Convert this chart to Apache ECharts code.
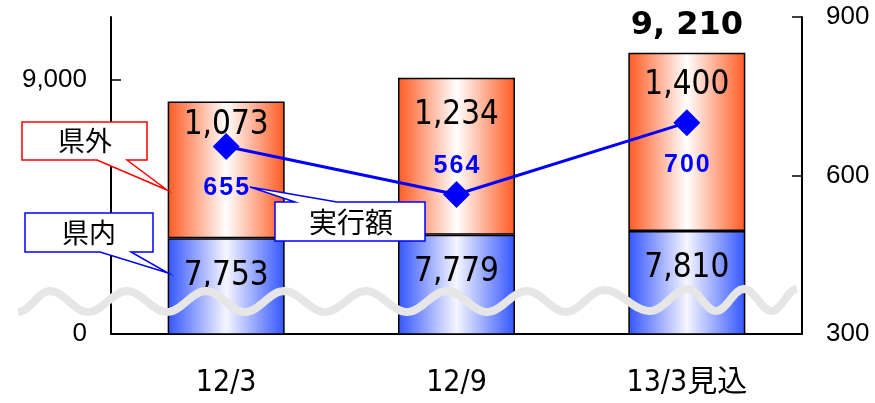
<!DOCTYPE html>
<html>
<head>
<meta charset="utf-8">
<script src="https://cdn.jsdelivr.net/npm/echarts@6/dist/echarts.min.js"></script>
<style>
  html, body { margin: 0; padding: 0; background: #ffffff; }
  #chart { width: 875px; height: 403px; }
</style>
</head>
<body>
<div id="chart"></div>
<script>
// ---- data ----
const categories = ['12/3', '12/9', '13/3見込'];
const inPref = [7753, 7779, 7810];      // 県内
const outPref = [1073, 1234, 1400];     // 県外
const executed = [655, 564, 700];       // 実行額 (right axis)
const totalShown = [false, false, true];
// left axis is broken: its lowest visible value is labelled 0
const leftAxisMin = 7000;
const leftAxisMax = 9490;
const leftTickValues = [7000, 9000];
const leftTickText = ['0', '9,000'];
const rightTickValues = [300, 600, 900];

// ---- helpers ----
const fmt = v => v.toLocaleString('en-US');
const spaced = s => s.split('').join('\u200A');
const totals = inPref.map((v, i) => v + outPref[i]);
const NARROW = "'Liberation Sans Narrow', 'DejaVu Sans Condensed', 'Noto Sans CJK JP', sans-serif";
const JP = "'Noto Sans CJK JP', sans-serif";
const SANS = "'Liberation Sans', Arial, sans-serif";

function hGradient(edge, mid) {
  return new echarts.graphic.LinearGradient(0, 0, 1, 0, [
    { offset: 0, color: edge },
    { offset: 0.5, color: mid },
    { offset: 1, color: edge }
  ]);
}

// label nudges for the 県外 values (vertical, px)
const outLabelNudge = [7, 21, 16];
const execLabelPos = ['bottom', 'top', 'bottom'];
const execLabelDist = [16, 2, 16];

// break marker: extrema of the wavy line across the plot
const waveExtrema = [
  [18, 312], [50, 291], [88, 312], [127, 291], [167, 312], [206, 291],
  [245, 312], [284, 291], [325, 312], [366, 291], [407, 312], [447, 291],
  [487, 312], [527, 291], [566, 312], [604, 290], [650, 311], [688, 289],
  [716, 311], [744, 289], [772, 311], [797, 289]
];
function wavePoints(ext) {
  const pts = [];
  for (let i = 0; i < ext.length - 1; i++) {
    const [x0, y0] = ext[i], [x1, y1] = ext[i + 1];
    for (let k = 0; k < 12; k++) {
      const t = k / 12;
      pts.push([x0 + (x1 - x0) * t, y0 + (y1 - y0) * (1 - Math.cos(Math.PI * t)) / 2]);
    }
  }
  pts.push(ext[ext.length - 1]);
  return pts;
}

const chart = echarts.init(document.getElementById('chart'), null, { renderer: 'canvas' });

const option = {
  animation: false,
  backgroundColor: '#ffffff',
  grid: { left: 111, right: 73, top: 17, bottom: 69, containLabel: false },
  xAxis: {
    type: 'category',
    data: categories,
    axisLine: { lineStyle: { color: '#000', width: 2 } },
    axisTick: { inside: true, length: 11, lineStyle: { color: '#000', width: 1.5 } },
    axisLabel: { color: '#000', fontSize: 30, fontFamily: NARROW, margin: 34 }
  },
  yAxis: [
    {
      type: 'value',
      min: leftAxisMin,
      max: leftAxisMax,
      splitLine: { show: false },
      axisLine: { show: true, lineStyle: { color: '#000', width: 2 } },
      axisTick: { show: true, inside: true, length: 10, customValues: [9000], lineStyle: { color: '#000', width: 1.5 } },
      axisLabel: {
        customValues: leftTickValues,
        color: '#000', fontSize: 26, fontFamily: SANS, margin: 24,
        formatter: v => leftTickText[leftTickValues.indexOf(v)]
      }
    },
    {
      type: 'value',
      position: 'right',
      min: rightTickValues[0],
      max: rightTickValues[rightTickValues.length - 1],
      interval: 300,
      splitLine: { show: false },
      axisLine: { show: true, lineStyle: { color: '#000', width: 2 } },
      axisTick: { show: true, inside: true, length: 10, lineStyle: { color: '#000', width: 1.5 } },
      axisLabel: { color: '#000', fontSize: 26, fontFamily: SANS, margin: 24 }
    }
  ],
  series: [
    {
      name: '県内',
      type: 'bar',
      stack: 'total',
      barWidth: 117,
      clip: true,
      data: inPref,
      itemStyle: { color: hGradient('#3355FF', '#F6F6FF'), borderColor: '#000', borderWidth: 1.5 },
      label: {
        show: true, position: 'insideTop', distance: 21,
        formatter: p => fmt(p.value),
        color: '#000', fontSize: 33, lineHeight: 34, fontFamily: NARROW
      },
      z: 2
    },
    {
      name: '県外',
      type: 'bar',
      stack: 'total',
      barWidth: 117,
      data: outPref.map((v, i) => ({ value: v, label: { offset: [0, outLabelNudge[i]] } })),
      itemStyle: { color: hGradient('#FF5A22', '#FFFFFF'), borderColor: '#000', borderWidth: 1.5 },
      label: {
        show: true, position: 'insideTop', distance: 0,
        formatter: p => fmt(p.value),
        color: '#000', fontSize: 33, lineHeight: 34, fontFamily: NARROW
      },
      z: 2
    },
    {
      name: '合計',
      type: 'scatter',
      symbolSize: 1,
      itemStyle: { color: 'rgba(0,0,0,0)', opacity: 1 },
      data: totals.map((v, i) => ({ value: v, label: { show: totalShown[i] } })),
      label: {
        position: 'top', distance: 10,
        formatter: p => fmt(p.value).replace(',', ', '),
        color: '#000', opacity: 1, fontSize: 32, fontWeight: 'bold',
        fontFamily: "'DejaVu Sans', sans-serif"
      },
      z: 4
    },
    {
      name: '実行額',
      type: 'line',
      yAxisIndex: 1,
      data: executed.map((v, i) => ({
        value: v,
        label: { position: execLabelPos[i], distance: execLabelDist[i] }
      })),
      lineStyle: { color: '#0000FF', width: 3 },
      itemStyle: { color: '#0000FF' },
      symbol: 'diamond',
      symbolSize: 27,
      label: {
        show: true,
        formatter: p => spaced(String(p.value)),
        color: '#0000FF', fontSize: 25, fontWeight: 'bold',
        fontFamily: SANS
      },
      z: 5
    }
  ],
  graphic: [
    // wavy break marker
    {
      type: 'polyline', z: 50,
      shape: { points: wavePoints(waveExtrema) },
      style: { stroke: '#E6E6E6', lineWidth: 8, fill: null, lineCap: 'butt', lineJoin: 'round' }
    },
    // 県外 callout
    {
      type: 'polygon', z: 60,
      shape: { points: [[22, 122], [147, 122], [147, 160], [127, 160], [167, 190], [97, 160], [22, 160]] },
      style: { fill: '#fff', stroke: '#FF0000', lineWidth: 1.5 }
    },
    {
      type: 'text', z: 61,
      style: { text: '県外', x: 85, y: 141, align: 'center', verticalAlign: 'middle', font: '27px ' + JP, fill: '#000' }
    },
    // 県内 callout
    {
      type: 'polygon', z: 60,
      shape: { points: [[25, 213], [153, 213], [153, 252], [131, 252], [168, 273], [100, 252], [25, 252]] },
      style: { fill: '#fff', stroke: '#0000FF', lineWidth: 1.5 }
    },
    {
      type: 'text', z: 61,
      style: { text: '県内', x: 89, y: 233, align: 'center', verticalAlign: 'middle', font: '27px ' + JP, fill: '#000' }
    },
    // 実行額 callout
    {
      type: 'polygon', z: 60,
      shape: { points: [[275, 202], [295, 202], [250, 187], [337, 202], [425, 202], [425, 241], [275, 241]] },
      style: { fill: '#fff', stroke: '#0000FF', lineWidth: 1.5 }
    },
    {
      type: 'text', z: 61,
      style: { text: '実行額', x: 351, y: 222, align: 'center', verticalAlign: 'middle', font: '28px ' + JP, fill: '#000' }
    }
  ]
};

chart.setOption(option);
</script>
</body>
</html>
